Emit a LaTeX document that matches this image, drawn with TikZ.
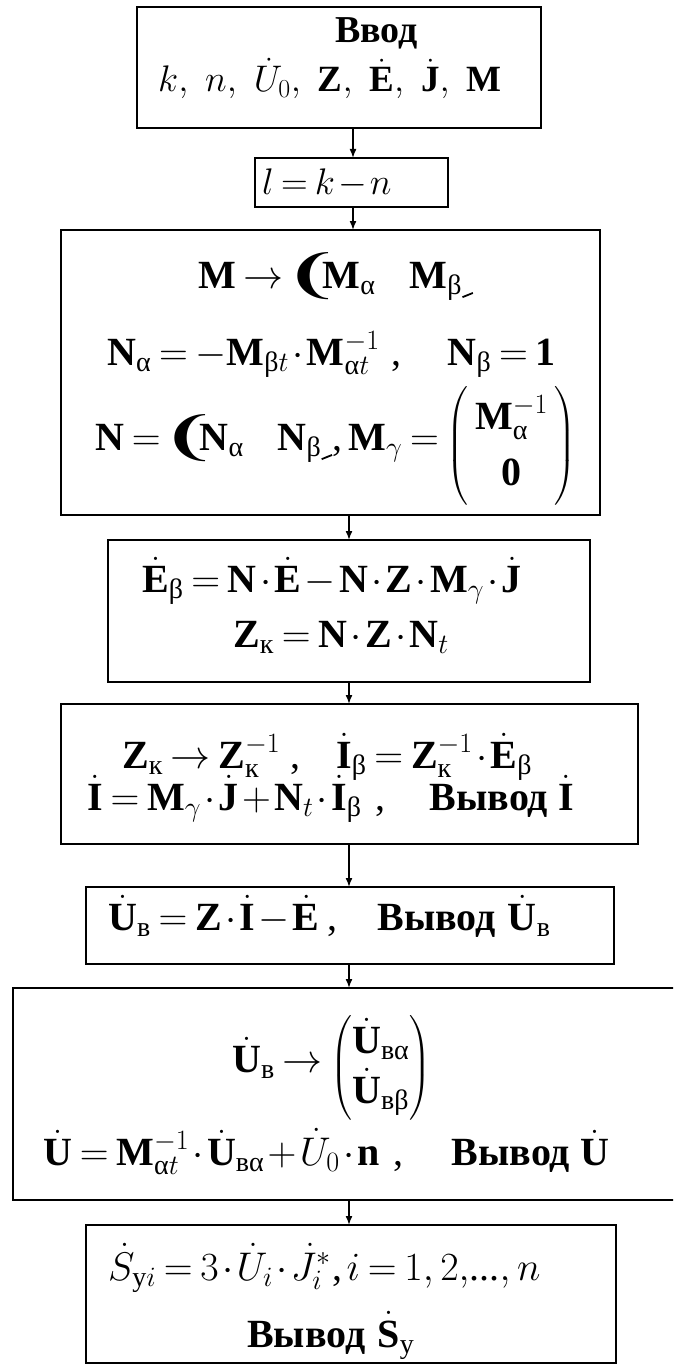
\RequirePackage{fix-cm}
\documentclass[tikz,border=0pt]{standalone}
\usepackage{amsmath}
\usepackage{fontspec}
\setmainfont{Liberation Serif}
\newfontfamily\djv{DejaVu Sans}
\usetikzlibrary{arrows.meta}
\newcommand\B[1]{\textbf{#1}}
\newcommand\dB[1]{\dot{\textbf{#1}}}
\newcommand\crs{\kern1pt\raisebox{-4pt}{\scalebox{1.7}[1.3]{\djv\bfseries\fontsize{40}{40}\selectfont ❨}}\kern-19pt}
\newcommand\tck{\raisebox{-0.25em}{\rotatebox{22}{\rule{0.28em}{0.045em}}}}
\begin{document}
\medmuskip=1.5mu
\thickmuskip=3.5mu
\begin{tikzpicture}[x=1pt,y=-1pt,
  box/.style={draw, line width=2pt, rectangle, inner sep=0pt, outer sep=0pt},
  txt/.style={anchor=base west, inner sep=0pt, font=\fontsize{40}{52}\selectfont},
  arr/.style={line width=1.6pt, -{Latex[length=9pt,width=7pt]}}]
\clip (0,0) rectangle (673,1367);
\path[use as bounding box] (0,0) rectangle (673,1367);
% boxes
\node[box, minimum width=404pt, minimum height=121pt] (b1) at (339,67.5) {};
\node[box, minimum width=193pt, minimum height=49pt] (b2) at (351.5,182.5) {};
\node[box, minimum width=539pt, minimum height=285pt] (b3) at (330.5,372.5) {};
\node[box, minimum width=482pt, minimum height=142pt] (b4) at (349,611) {};
\node[box, minimum width=577pt, minimum height=140pt] (b5) at (349.5,774) {};
\node[box, minimum width=528pt, minimum height=77pt] (b6) at (350,925.5) {};
\node[box, minimum width=687pt, minimum height=212pt] (b7) at (356.5,1094) {};
\node[box, minimum width=530pt, minimum height=138pt] (b8) at (351,1294) {};
% arrow columns
\coordinate (xa) at (353,0);
\coordinate (xb) at (349,0);
\draw[arr] (b1.south -| xa) -- (b2.north -| xa);
\draw[arr] (b2.south -| xa) -- (b3.north -| xa);
\draw[arr] (b3.south -| xb) -- (b4.north -| xb);
\draw[arr] (b4.south -| xb) -- (b5.north -| xb);
\draw[arr] (b5.south -| xb) -- (b6.north -| xb);
\draw[arr] (b6.south -| xb) -- (b7.north -| xb);
\draw[arr] (b7.south -| xb) -- (b8.north -| xb);
% box 1
\node[txt, font=\fontsize{38}{44}\selectfont] (t1a) at (335,43) {\textbf{Ввод}};
\node[txt, font=\fontsize{37}{44}\selectfont] (t1b) at (158,92) {$k,\ \kern1.5pt n,\ \kern1.5pt\dot U_0,\ \kern1.5pt\B{Z},\ \kern1.5pt\dB{E},\ \kern1.5pt\dB{J},\ \kern1.5pt\B{M}$};
% box 2
\node[txt, font=\fontsize{37}{44}\selectfont] (t2) at (262,194) {$l = k - n$};
% box 3
\node[txt] (t3a) at (198,288) {$\B{M}\rightarrow$\crs$\B{M}_{\text{α}}$\hspace{34pt}$\B{M}_{\text{β}}$\tck};
\node[txt] (t3b) at (107,365) {$\B{N}_{\text{α}} = -\B{M}_{\text{β}t}\cdot\B{M}_{\text{α}t}^{-1}$\hspace{12pt},\hspace{46pt}$\B{N}_{\text{β}} = \B{1}$};
\node[txt, font=\fontsize{40}{56}\selectfont] (t3c) at (95,450) {$\B{N} = $\crs$\B{N}_{\text{α}}$\hspace{34pt}$\B{N}_{\text{β}}$\tck,\hspace{6pt}$\B{M}_{\gamma} = \raisebox{-6pt}{$\begin{pmatrix}\,\B{M}_{\text{α}}^{-1}\,\\ \B{0}\end{pmatrix}$}$};
% box 4
\node[txt] (t4a) at (142,592) {$\dB{E}_{\text{β}} = \B{N}\cdot\dB{E} - \B{N}\cdot\B{Z}\cdot\B{M}_{\gamma}\cdot\dB{J}$};
\node[txt] (t4b) at (233,647) {$\B{Z}_{\text{к}} = \B{N}\cdot\B{Z}\cdot\B{N}_t$};
% box 5
\node[txt] (t5a) at (122,768) {$\B{Z}_{\text{к}}\rightarrow\B{Z}_{\text{к}}^{-1}$\hspace{10pt},\hspace{36pt}$\dB{I}_{\text{β}} = \B{Z}_{\text{к}}^{-1}\cdot\dB{E}_{\text{β}}$};
\node[txt] (t5b) at (87,810) {$\dB{I} = \B{M}_{\gamma}\cdot\dB{J} + \B{N}_t\cdot\dB{I}_{\text{β}}$\hspace{14pt},\hspace{44pt}\textbf{Вывод}\hspace{10pt}$\dB{I}$};
% box 6
\node[txt] (t6) at (108,930) {$\dB{U}_{\text{в}} = \B{Z}\cdot\dB{I} - \dB{E}$\hspace{8pt},\hspace{40pt}\textbf{Вывод}\hspace{12pt}$\dB{U}_{\text{в}}$};
% box 7
\node[txt, font=\fontsize{40}{48}\selectfont] (t7a) at (232,1072) {$\dB{U}_{\text{в}}\rightarrow\raisebox{-6pt}{$\begin{pmatrix}\dB{U}_{\text{вα}}\\ \dB{U}_{\text{вβ}}\end{pmatrix}$}$};
\node[txt] (t7b) at (43,1165) {$\dB{U} = \B{M}_{\text{α}t}^{-1}\cdot\dB{U}_{\text{вα}} + \dot U_0\cdot\B{n}$\hspace{14pt},\hspace{48pt}\textbf{Вывод}\hspace{10pt}$\dB{U}$};
% box 8
\node[txt] (t8a) at (108,1280) {$\dot S_{\text{у}i} = 3\cdot\dot U_i\cdot\dot J_i^{*}$\hspace{2pt},\hspace{4pt}$i = 1,2,$...$,n$};
\node[txt] (t8b) at (247,1347) {\textbf{Вывод}\hspace{12pt}$\dB{S}_{\text{у}}$};
\end{tikzpicture}
\end{document}
